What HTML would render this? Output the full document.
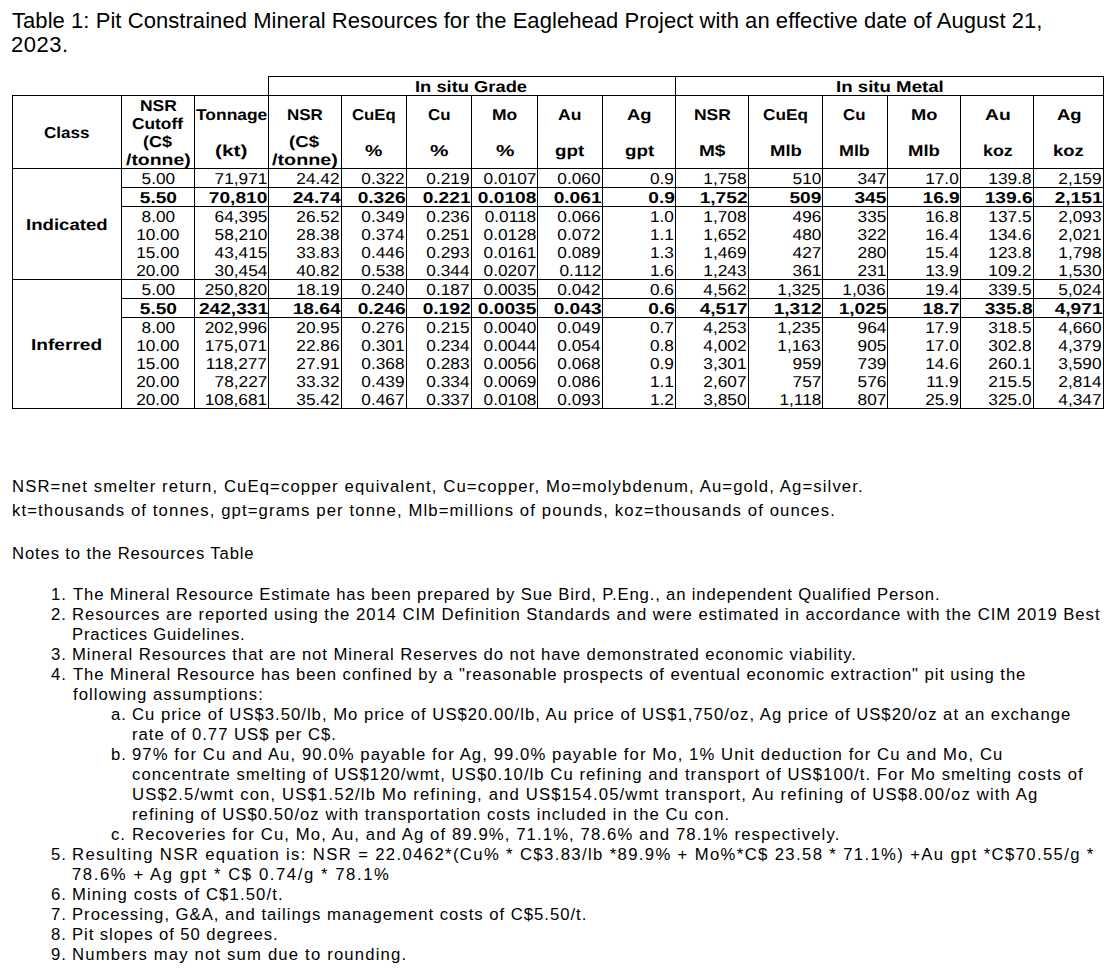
<!DOCTYPE html>
<html><head><meta charset="utf-8"><title>Table 1</title>
<style>
html,body{margin:0;padding:0;background:#fff;}
body{width:1120px;height:969px;position:relative;overflow:hidden;font-family:'Liberation Sans', sans-serif;color:#000;}
.ln{position:absolute;background:#000;}
.t{position:absolute;line-height:20px;white-space:pre;}
.gp{text-rendering:geometricPrecision;}
</style></head><body>
<div class="ln" style="left:268px;top:76px;width:836px;height:1px"></div>
<div class="ln" style="left:12px;top:95px;width:1092px;height:1px"></div>
<div class="ln" style="left:12px;top:168px;width:1092px;height:1px"></div>
<div class="ln" style="left:12px;top:279px;width:1092px;height:1px"></div>
<div class="ln" style="left:12px;top:408px;width:1092px;height:1px"></div>
<div class="ln" style="left:121px;top:187px;width:983px;height:1px"></div>
<div class="ln" style="left:121px;top:206px;width:983px;height:1px"></div>
<div class="ln" style="left:121px;top:298px;width:983px;height:1px"></div>
<div class="ln" style="left:121px;top:317px;width:983px;height:1px"></div>
<div class="ln" style="left:12px;top:95px;width:1px;height:314px"></div>
<div class="ln" style="left:121px;top:95px;width:1px;height:314px"></div>
<div class="ln" style="left:194px;top:95px;width:1px;height:314px"></div>
<div class="ln" style="left:268px;top:76px;width:1px;height:333px"></div>
<div class="ln" style="left:341px;top:95px;width:1px;height:314px"></div>
<div class="ln" style="left:406px;top:95px;width:1px;height:314px"></div>
<div class="ln" style="left:471px;top:95px;width:1px;height:314px"></div>
<div class="ln" style="left:537px;top:95px;width:1px;height:314px"></div>
<div class="ln" style="left:602px;top:95px;width:1px;height:314px"></div>
<div class="ln" style="left:675px;top:76px;width:1px;height:333px"></div>
<div class="ln" style="left:748px;top:95px;width:1px;height:314px"></div>
<div class="ln" style="left:822px;top:95px;width:1px;height:314px"></div>
<div class="ln" style="left:887px;top:95px;width:1px;height:314px"></div>
<div class="ln" style="left:960px;top:95px;width:1px;height:314px"></div>
<div class="ln" style="left:1033px;top:95px;width:1px;height:314px"></div>
<div class="ln" style="left:1103px;top:76px;width:1px;height:333px"></div>
<div class="t" style="top:11px;font-size:22px;letter-spacing:0.0577px;left:12px;">Table 1: Pit Constrained Mineral Resources for the Eaglehead Project with an effective date of August 21,</div>
<div class="t" style="top:35px;font-size:22px;letter-spacing:0.5px;left:11px;">2023.</div>
<div class="t gp" style="top:78px;font-size:15.8px;letter-spacing:0px;transform:scaleX(1.1604);transform-origin:0 0;font-weight:bold;left:415px;">In situ Grade</div>
<div class="t gp" style="top:78px;font-size:15.8px;letter-spacing:0px;transform:scaleX(1.1809);transform-origin:0 0;font-weight:bold;left:836px;">In situ Metal</div>
<div class="t gp" style="top:124px;font-size:15.8px;letter-spacing:0px;transform:scaleX(1.0808);transform-origin:0 0;font-weight:bold;left:44px;">Class</div>
<div class="t gp" style="top:97px;font-size:15.8px;letter-spacing:0px;transform:scaleX(1.1062);transform-origin:0 0;font-weight:bold;left:140px;">NSR</div>
<div class="t gp" style="top:115px;font-size:15.8px;letter-spacing:0px;transform:scaleX(1.0961);transform-origin:0 0;font-weight:bold;left:132px;">Cutoff</div>
<div class="t gp" style="top:133px;font-size:15.8px;letter-spacing:0px;transform:scaleX(1.1362);transform-origin:0 0;font-weight:bold;left:143px;">(C$</div>
<div class="t gp" style="top:151px;font-size:15.8px;letter-spacing:0px;transform:scaleX(1.2296);transform-origin:0 0;font-weight:bold;left:126px;">/tonne)</div>
<div class="t gp" style="top:106px;font-size:15.8px;letter-spacing:0px;transform:scaleX(1.1028);transform-origin:0 0;font-weight:bold;left:196px;">Tonnage</div>
<div class="t gp" style="top:142px;font-size:15.8px;letter-spacing:0px;transform:scaleX(1.3237);transform-origin:0 0;font-weight:bold;left:215px;">(kt)</div>
<div class="t gp" style="top:106px;font-size:15.8px;letter-spacing:0px;transform:scaleX(1.073);transform-origin:0 0;font-weight:bold;left:287px;">NSR</div>
<div class="t gp" style="top:133px;font-size:15.8px;letter-spacing:0px;transform:scaleX(1.1796);transform-origin:0 0;font-weight:bold;left:289px;">(C$</div>
<div class="t gp" style="top:151px;font-size:15.8px;letter-spacing:0px;transform:scaleX(1.2501);transform-origin:0 0;font-weight:bold;left:272px;">/tonne)</div>
<div class="t gp" style="top:106px;font-size:15.8px;letter-spacing:0px;transform:scaleX(1.0594);transform-origin:0 0;font-weight:bold;left:352px;">CuEq</div>
<div class="t gp" style="top:142px;font-size:15.8px;letter-spacing:0px;transform:scaleX(1.2351);transform-origin:0 0;font-weight:bold;left:365px;">%</div>
<div class="t gp" style="top:106px;font-size:15.8px;letter-spacing:0px;transform:scaleX(1.066);transform-origin:0 0;font-weight:bold;left:428px;">Cu</div>
<div class="t gp" style="top:142px;font-size:15.8px;letter-spacing:0px;transform:scaleX(1.3117);transform-origin:0 0;font-weight:bold;left:430px;">%</div>
<div class="t gp" style="top:106px;font-size:15.8px;letter-spacing:0px;transform:scaleX(1.1077);transform-origin:0 0;font-weight:bold;left:492px;">Mo</div>
<div class="t gp" style="top:142px;font-size:15.8px;letter-spacing:0px;transform:scaleX(1.3117);transform-origin:0 0;font-weight:bold;left:496px;">%</div>
<div class="t gp" style="top:106px;font-size:15.8px;letter-spacing:0px;transform:scaleX(1.1119);transform-origin:0 0;font-weight:bold;left:558px;">Au</div>
<div class="t gp" style="top:142px;font-size:15.8px;letter-spacing:0px;transform:scaleX(1.1864);transform-origin:0 0;font-weight:bold;left:555px;">gpt</div>
<div class="t gp" style="top:106px;font-size:15.8px;letter-spacing:0px;transform:scaleX(1.1648);transform-origin:0 0;font-weight:bold;left:627px;">Ag</div>
<div class="t gp" style="top:142px;font-size:15.8px;letter-spacing:0px;transform:scaleX(1.1864);transform-origin:0 0;font-weight:bold;left:625px;">gpt</div>
<div class="t gp" style="top:106px;font-size:15.8px;letter-spacing:0px;transform:scaleX(1.1062);transform-origin:0 0;font-weight:bold;left:694px;">NSR</div>
<div class="t gp" style="top:142px;font-size:15.8px;letter-spacing:0px;transform:scaleX(1.2056);transform-origin:0 0;font-weight:bold;left:699px;">M$</div>
<div class="t gp" style="top:106px;font-size:15.8px;letter-spacing:0px;transform:scaleX(1.0886);transform-origin:0 0;font-weight:bold;left:763px;">CuEq</div>
<div class="t gp" style="top:142px;font-size:15.8px;letter-spacing:0px;transform:scaleX(1.1732);transform-origin:0 0;font-weight:bold;left:770px;">Mlb</div>
<div class="t gp" style="top:106px;font-size:15.8px;letter-spacing:0px;transform:scaleX(1.0652);transform-origin:0 0;font-weight:bold;left:843px;">Cu</div>
<div class="t gp" style="top:142px;font-size:15.8px;letter-spacing:0px;transform:scaleX(1.1316);transform-origin:0 0;font-weight:bold;left:839px;">Mlb</div>
<div class="t gp" style="top:106px;font-size:15.8px;letter-spacing:0px;transform:scaleX(1.1574);transform-origin:0 0;font-weight:bold;left:911px;">Mo</div>
<div class="t gp" style="top:142px;font-size:15.8px;letter-spacing:0px;transform:scaleX(1.1732);transform-origin:0 0;font-weight:bold;left:908px;">Mlb</div>
<div class="t gp" style="top:106px;font-size:15.8px;letter-spacing:0px;transform:scaleX(1.2195);transform-origin:0 0;font-weight:bold;left:985px;">Au</div>
<div class="t gp" style="top:142px;font-size:15.8px;letter-spacing:0px;transform:scaleX(1.1292);transform-origin:0 0;font-weight:bold;left:983px;">koz</div>
<div class="t gp" style="top:106px;font-size:15.8px;letter-spacing:0px;transform:scaleX(1.1648);transform-origin:0 0;font-weight:bold;left:1057px;">Ag</div>
<div class="t gp" style="top:142px;font-size:15.8px;letter-spacing:0px;transform:scaleX(1.1707);transform-origin:0 0;font-weight:bold;left:1053px;">koz</div>
<div class="t gp" style="top:216px;font-size:15.8px;letter-spacing:0px;transform:scaleX(1.1775);transform-origin:0 0;font-weight:bold;left:26px;">Indicated</div>
<div class="t gp" style="top:336px;font-size:15.8px;letter-spacing:0px;transform:scaleX(1.209);transform-origin:0 0;font-weight:bold;left:31px;">Inferred</div>
<div class="t gp" style="top:170px;font-size:15.8px;letter-spacing:0px;left:121.7px;width:73px;text-align:center;"><span style="display:inline-block;transform:scaleX(1.092);transform-origin:50% 50%">5.00</span></div>
<div class="t gp" style="top:170px;font-size:15.8px;letter-spacing:0px;left:194px;width:73.0px;text-align:right;"><span style="display:inline-block;transform:scaleX(1.092);transform-origin:100% 50%">71,971</span></div>
<div class="t gp" style="top:170px;font-size:15.8px;letter-spacing:0px;left:268px;width:72.0px;text-align:right;"><span style="display:inline-block;transform:scaleX(1.092);transform-origin:100% 50%">24.42</span></div>
<div class="t gp" style="top:170px;font-size:15.8px;letter-spacing:0px;left:341px;width:64.0px;text-align:right;"><span style="display:inline-block;transform:scaleX(1.092);transform-origin:100% 50%">0.322</span></div>
<div class="t gp" style="top:170px;font-size:15.8px;letter-spacing:0px;left:406px;width:64.0px;text-align:right;"><span style="display:inline-block;transform:scaleX(1.092);transform-origin:100% 50%">0.219</span></div>
<div class="t gp" style="top:170px;font-size:15.8px;letter-spacing:0px;left:471px;width:65.0px;text-align:right;"><span style="display:inline-block;transform:scaleX(1.092);transform-origin:100% 50%">0.0107</span></div>
<div class="t gp" style="top:170px;font-size:15.8px;letter-spacing:0px;left:537px;width:64.0px;text-align:right;"><span style="display:inline-block;transform:scaleX(1.092);transform-origin:100% 50%">0.060</span></div>
<div class="t gp" style="top:170px;font-size:15.8px;letter-spacing:0px;left:602px;width:72.0px;text-align:right;"><span style="display:inline-block;transform:scaleX(1.092);transform-origin:100% 50%">0.9</span></div>
<div class="t gp" style="top:170px;font-size:15.8px;letter-spacing:0px;left:675px;width:72.0px;text-align:right;"><span style="display:inline-block;transform:scaleX(1.092);transform-origin:100% 50%">1,758</span></div>
<div class="t gp" style="top:170px;font-size:15.8px;letter-spacing:0px;left:748px;width:73.0px;text-align:right;"><span style="display:inline-block;transform:scaleX(1.092);transform-origin:100% 50%">510</span></div>
<div class="t gp" style="top:170px;font-size:15.8px;letter-spacing:0px;left:822px;width:64.0px;text-align:right;"><span style="display:inline-block;transform:scaleX(1.092);transform-origin:100% 50%">347</span></div>
<div class="t gp" style="top:170px;font-size:15.8px;letter-spacing:0px;left:887px;width:72.0px;text-align:right;"><span style="display:inline-block;transform:scaleX(1.092);transform-origin:100% 50%">17.0</span></div>
<div class="t gp" style="top:170px;font-size:15.8px;letter-spacing:0px;left:960px;width:72.0px;text-align:right;"><span style="display:inline-block;transform:scaleX(1.092);transform-origin:100% 50%">139.8</span></div>
<div class="t gp" style="top:170px;font-size:15.8px;letter-spacing:0px;left:1033px;width:69.0px;text-align:right;"><span style="display:inline-block;transform:scaleX(1.092);transform-origin:100% 50%">2,159</span></div>
<div class="t gp" style="top:189px;font-size:15.8px;letter-spacing:0px;font-weight:bold;left:121.7px;width:73px;text-align:center;"><span style="display:inline-block;transform:scaleX(1.2113);transform-origin:50% 50%">5.50</span></div>
<div class="t gp" style="top:189px;font-size:15.8px;letter-spacing:0px;font-weight:bold;left:194px;width:73.7px;text-align:right;"><span style="display:inline-block;transform:scaleX(1.2113);transform-origin:100% 50%">70,810</span></div>
<div class="t gp" style="top:189px;font-size:15.8px;letter-spacing:0px;font-weight:bold;left:268px;width:72.7px;text-align:right;"><span style="display:inline-block;transform:scaleX(1.2113);transform-origin:100% 50%">24.74</span></div>
<div class="t gp" style="top:189px;font-size:15.8px;letter-spacing:0px;font-weight:bold;left:341px;width:64.7px;text-align:right;"><span style="display:inline-block;transform:scaleX(1.2113);transform-origin:100% 50%">0.326</span></div>
<div class="t gp" style="top:189px;font-size:15.8px;letter-spacing:0px;font-weight:bold;left:406px;width:64.7px;text-align:right;"><span style="display:inline-block;transform:scaleX(1.2113);transform-origin:100% 50%">0.221</span></div>
<div class="t gp" style="top:189px;font-size:15.8px;letter-spacing:0px;font-weight:bold;left:471px;width:65.7px;text-align:right;"><span style="display:inline-block;transform:scaleX(1.2113);transform-origin:100% 50%">0.0108</span></div>
<div class="t gp" style="top:189px;font-size:15.8px;letter-spacing:0px;font-weight:bold;left:537px;width:64.7px;text-align:right;"><span style="display:inline-block;transform:scaleX(1.2113);transform-origin:100% 50%">0.061</span></div>
<div class="t gp" style="top:189px;font-size:15.8px;letter-spacing:0px;font-weight:bold;left:602px;width:72.7px;text-align:right;"><span style="display:inline-block;transform:scaleX(1.2113);transform-origin:100% 50%">0.9</span></div>
<div class="t gp" style="top:189px;font-size:15.8px;letter-spacing:0px;font-weight:bold;left:675px;width:72.7px;text-align:right;"><span style="display:inline-block;transform:scaleX(1.2113);transform-origin:100% 50%">1,752</span></div>
<div class="t gp" style="top:189px;font-size:15.8px;letter-spacing:0px;font-weight:bold;left:748px;width:73.7px;text-align:right;"><span style="display:inline-block;transform:scaleX(1.2113);transform-origin:100% 50%">509</span></div>
<div class="t gp" style="top:189px;font-size:15.8px;letter-spacing:0px;font-weight:bold;left:822px;width:64.7px;text-align:right;"><span style="display:inline-block;transform:scaleX(1.2113);transform-origin:100% 50%">345</span></div>
<div class="t gp" style="top:189px;font-size:15.8px;letter-spacing:0px;font-weight:bold;left:887px;width:72.7px;text-align:right;"><span style="display:inline-block;transform:scaleX(1.2113);transform-origin:100% 50%">16.9</span></div>
<div class="t gp" style="top:189px;font-size:15.8px;letter-spacing:0px;font-weight:bold;left:960px;width:72.7px;text-align:right;"><span style="display:inline-block;transform:scaleX(1.2113);transform-origin:100% 50%">139.6</span></div>
<div class="t gp" style="top:189px;font-size:15.8px;letter-spacing:0px;font-weight:bold;left:1033px;width:69.7px;text-align:right;"><span style="display:inline-block;transform:scaleX(1.2113);transform-origin:100% 50%">2,151</span></div>
<div class="t gp" style="top:208px;font-size:15.8px;letter-spacing:0px;left:121.7px;width:73px;text-align:center;"><span style="display:inline-block;transform:scaleX(1.092);transform-origin:50% 50%">8.00</span></div>
<div class="t gp" style="top:208px;font-size:15.8px;letter-spacing:0px;left:194px;width:73.0px;text-align:right;"><span style="display:inline-block;transform:scaleX(1.092);transform-origin:100% 50%">64,395</span></div>
<div class="t gp" style="top:208px;font-size:15.8px;letter-spacing:0px;left:268px;width:72.0px;text-align:right;"><span style="display:inline-block;transform:scaleX(1.092);transform-origin:100% 50%">26.52</span></div>
<div class="t gp" style="top:208px;font-size:15.8px;letter-spacing:0px;left:341px;width:64.0px;text-align:right;"><span style="display:inline-block;transform:scaleX(1.092);transform-origin:100% 50%">0.349</span></div>
<div class="t gp" style="top:208px;font-size:15.8px;letter-spacing:0px;left:406px;width:64.0px;text-align:right;"><span style="display:inline-block;transform:scaleX(1.092);transform-origin:100% 50%">0.236</span></div>
<div class="t gp" style="top:208px;font-size:15.8px;letter-spacing:0px;left:471px;width:65.0px;text-align:right;"><span style="display:inline-block;transform:scaleX(1.092);transform-origin:100% 50%">0.0118</span></div>
<div class="t gp" style="top:208px;font-size:15.8px;letter-spacing:0px;left:537px;width:64.0px;text-align:right;"><span style="display:inline-block;transform:scaleX(1.092);transform-origin:100% 50%">0.066</span></div>
<div class="t gp" style="top:208px;font-size:15.8px;letter-spacing:0px;left:602px;width:72.0px;text-align:right;"><span style="display:inline-block;transform:scaleX(1.092);transform-origin:100% 50%">1.0</span></div>
<div class="t gp" style="top:208px;font-size:15.8px;letter-spacing:0px;left:675px;width:72.0px;text-align:right;"><span style="display:inline-block;transform:scaleX(1.092);transform-origin:100% 50%">1,708</span></div>
<div class="t gp" style="top:208px;font-size:15.8px;letter-spacing:0px;left:748px;width:73.0px;text-align:right;"><span style="display:inline-block;transform:scaleX(1.092);transform-origin:100% 50%">496</span></div>
<div class="t gp" style="top:208px;font-size:15.8px;letter-spacing:0px;left:822px;width:64.0px;text-align:right;"><span style="display:inline-block;transform:scaleX(1.092);transform-origin:100% 50%">335</span></div>
<div class="t gp" style="top:208px;font-size:15.8px;letter-spacing:0px;left:887px;width:72.0px;text-align:right;"><span style="display:inline-block;transform:scaleX(1.092);transform-origin:100% 50%">16.8</span></div>
<div class="t gp" style="top:208px;font-size:15.8px;letter-spacing:0px;left:960px;width:72.0px;text-align:right;"><span style="display:inline-block;transform:scaleX(1.092);transform-origin:100% 50%">137.5</span></div>
<div class="t gp" style="top:208px;font-size:15.8px;letter-spacing:0px;left:1033px;width:69.0px;text-align:right;"><span style="display:inline-block;transform:scaleX(1.092);transform-origin:100% 50%">2,093</span></div>
<div class="t gp" style="top:226px;font-size:15.8px;letter-spacing:0px;left:121.7px;width:73px;text-align:center;"><span style="display:inline-block;transform:scaleX(1.092);transform-origin:50% 50%">10.00</span></div>
<div class="t gp" style="top:226px;font-size:15.8px;letter-spacing:0px;left:194px;width:73.0px;text-align:right;"><span style="display:inline-block;transform:scaleX(1.092);transform-origin:100% 50%">58,210</span></div>
<div class="t gp" style="top:226px;font-size:15.8px;letter-spacing:0px;left:268px;width:72.0px;text-align:right;"><span style="display:inline-block;transform:scaleX(1.092);transform-origin:100% 50%">28.38</span></div>
<div class="t gp" style="top:226px;font-size:15.8px;letter-spacing:0px;left:341px;width:64.0px;text-align:right;"><span style="display:inline-block;transform:scaleX(1.092);transform-origin:100% 50%">0.374</span></div>
<div class="t gp" style="top:226px;font-size:15.8px;letter-spacing:0px;left:406px;width:64.0px;text-align:right;"><span style="display:inline-block;transform:scaleX(1.092);transform-origin:100% 50%">0.251</span></div>
<div class="t gp" style="top:226px;font-size:15.8px;letter-spacing:0px;left:471px;width:65.0px;text-align:right;"><span style="display:inline-block;transform:scaleX(1.092);transform-origin:100% 50%">0.0128</span></div>
<div class="t gp" style="top:226px;font-size:15.8px;letter-spacing:0px;left:537px;width:64.0px;text-align:right;"><span style="display:inline-block;transform:scaleX(1.092);transform-origin:100% 50%">0.072</span></div>
<div class="t gp" style="top:226px;font-size:15.8px;letter-spacing:0px;left:602px;width:72.0px;text-align:right;"><span style="display:inline-block;transform:scaleX(1.092);transform-origin:100% 50%">1.1</span></div>
<div class="t gp" style="top:226px;font-size:15.8px;letter-spacing:0px;left:675px;width:72.0px;text-align:right;"><span style="display:inline-block;transform:scaleX(1.092);transform-origin:100% 50%">1,652</span></div>
<div class="t gp" style="top:226px;font-size:15.8px;letter-spacing:0px;left:748px;width:73.0px;text-align:right;"><span style="display:inline-block;transform:scaleX(1.092);transform-origin:100% 50%">480</span></div>
<div class="t gp" style="top:226px;font-size:15.8px;letter-spacing:0px;left:822px;width:64.0px;text-align:right;"><span style="display:inline-block;transform:scaleX(1.092);transform-origin:100% 50%">322</span></div>
<div class="t gp" style="top:226px;font-size:15.8px;letter-spacing:0px;left:887px;width:72.0px;text-align:right;"><span style="display:inline-block;transform:scaleX(1.092);transform-origin:100% 50%">16.4</span></div>
<div class="t gp" style="top:226px;font-size:15.8px;letter-spacing:0px;left:960px;width:72.0px;text-align:right;"><span style="display:inline-block;transform:scaleX(1.092);transform-origin:100% 50%">134.6</span></div>
<div class="t gp" style="top:226px;font-size:15.8px;letter-spacing:0px;left:1033px;width:69.0px;text-align:right;"><span style="display:inline-block;transform:scaleX(1.092);transform-origin:100% 50%">2,021</span></div>
<div class="t gp" style="top:244px;font-size:15.8px;letter-spacing:0px;left:121.7px;width:73px;text-align:center;"><span style="display:inline-block;transform:scaleX(1.092);transform-origin:50% 50%">15.00</span></div>
<div class="t gp" style="top:244px;font-size:15.8px;letter-spacing:0px;left:194px;width:73.0px;text-align:right;"><span style="display:inline-block;transform:scaleX(1.092);transform-origin:100% 50%">43,415</span></div>
<div class="t gp" style="top:244px;font-size:15.8px;letter-spacing:0px;left:268px;width:72.0px;text-align:right;"><span style="display:inline-block;transform:scaleX(1.092);transform-origin:100% 50%">33.83</span></div>
<div class="t gp" style="top:244px;font-size:15.8px;letter-spacing:0px;left:341px;width:64.0px;text-align:right;"><span style="display:inline-block;transform:scaleX(1.092);transform-origin:100% 50%">0.446</span></div>
<div class="t gp" style="top:244px;font-size:15.8px;letter-spacing:0px;left:406px;width:64.0px;text-align:right;"><span style="display:inline-block;transform:scaleX(1.092);transform-origin:100% 50%">0.293</span></div>
<div class="t gp" style="top:244px;font-size:15.8px;letter-spacing:0px;left:471px;width:65.0px;text-align:right;"><span style="display:inline-block;transform:scaleX(1.092);transform-origin:100% 50%">0.0161</span></div>
<div class="t gp" style="top:244px;font-size:15.8px;letter-spacing:0px;left:537px;width:64.0px;text-align:right;"><span style="display:inline-block;transform:scaleX(1.092);transform-origin:100% 50%">0.089</span></div>
<div class="t gp" style="top:244px;font-size:15.8px;letter-spacing:0px;left:602px;width:72.0px;text-align:right;"><span style="display:inline-block;transform:scaleX(1.092);transform-origin:100% 50%">1.3</span></div>
<div class="t gp" style="top:244px;font-size:15.8px;letter-spacing:0px;left:675px;width:72.0px;text-align:right;"><span style="display:inline-block;transform:scaleX(1.092);transform-origin:100% 50%">1,469</span></div>
<div class="t gp" style="top:244px;font-size:15.8px;letter-spacing:0px;left:748px;width:73.0px;text-align:right;"><span style="display:inline-block;transform:scaleX(1.092);transform-origin:100% 50%">427</span></div>
<div class="t gp" style="top:244px;font-size:15.8px;letter-spacing:0px;left:822px;width:64.0px;text-align:right;"><span style="display:inline-block;transform:scaleX(1.092);transform-origin:100% 50%">280</span></div>
<div class="t gp" style="top:244px;font-size:15.8px;letter-spacing:0px;left:887px;width:72.0px;text-align:right;"><span style="display:inline-block;transform:scaleX(1.092);transform-origin:100% 50%">15.4</span></div>
<div class="t gp" style="top:244px;font-size:15.8px;letter-spacing:0px;left:960px;width:72.0px;text-align:right;"><span style="display:inline-block;transform:scaleX(1.092);transform-origin:100% 50%">123.8</span></div>
<div class="t gp" style="top:244px;font-size:15.8px;letter-spacing:0px;left:1033px;width:69.0px;text-align:right;"><span style="display:inline-block;transform:scaleX(1.092);transform-origin:100% 50%">1,798</span></div>
<div class="t gp" style="top:262px;font-size:15.8px;letter-spacing:0px;left:121.7px;width:73px;text-align:center;"><span style="display:inline-block;transform:scaleX(1.092);transform-origin:50% 50%">20.00</span></div>
<div class="t gp" style="top:262px;font-size:15.8px;letter-spacing:0px;left:194px;width:73.0px;text-align:right;"><span style="display:inline-block;transform:scaleX(1.092);transform-origin:100% 50%">30,454</span></div>
<div class="t gp" style="top:262px;font-size:15.8px;letter-spacing:0px;left:268px;width:72.0px;text-align:right;"><span style="display:inline-block;transform:scaleX(1.092);transform-origin:100% 50%">40.82</span></div>
<div class="t gp" style="top:262px;font-size:15.8px;letter-spacing:0px;left:341px;width:64.0px;text-align:right;"><span style="display:inline-block;transform:scaleX(1.092);transform-origin:100% 50%">0.538</span></div>
<div class="t gp" style="top:262px;font-size:15.8px;letter-spacing:0px;left:406px;width:64.0px;text-align:right;"><span style="display:inline-block;transform:scaleX(1.092);transform-origin:100% 50%">0.344</span></div>
<div class="t gp" style="top:262px;font-size:15.8px;letter-spacing:0px;left:471px;width:65.0px;text-align:right;"><span style="display:inline-block;transform:scaleX(1.092);transform-origin:100% 50%">0.0207</span></div>
<div class="t gp" style="top:262px;font-size:15.8px;letter-spacing:0px;left:537px;width:64.0px;text-align:right;"><span style="display:inline-block;transform:scaleX(1.092);transform-origin:100% 50%">0.112</span></div>
<div class="t gp" style="top:262px;font-size:15.8px;letter-spacing:0px;left:602px;width:72.0px;text-align:right;"><span style="display:inline-block;transform:scaleX(1.092);transform-origin:100% 50%">1.6</span></div>
<div class="t gp" style="top:262px;font-size:15.8px;letter-spacing:0px;left:675px;width:72.0px;text-align:right;"><span style="display:inline-block;transform:scaleX(1.092);transform-origin:100% 50%">1,243</span></div>
<div class="t gp" style="top:262px;font-size:15.8px;letter-spacing:0px;left:748px;width:73.0px;text-align:right;"><span style="display:inline-block;transform:scaleX(1.092);transform-origin:100% 50%">361</span></div>
<div class="t gp" style="top:262px;font-size:15.8px;letter-spacing:0px;left:822px;width:64.0px;text-align:right;"><span style="display:inline-block;transform:scaleX(1.092);transform-origin:100% 50%">231</span></div>
<div class="t gp" style="top:262px;font-size:15.8px;letter-spacing:0px;left:887px;width:72.0px;text-align:right;"><span style="display:inline-block;transform:scaleX(1.092);transform-origin:100% 50%">13.9</span></div>
<div class="t gp" style="top:262px;font-size:15.8px;letter-spacing:0px;left:960px;width:72.0px;text-align:right;"><span style="display:inline-block;transform:scaleX(1.092);transform-origin:100% 50%">109.2</span></div>
<div class="t gp" style="top:262px;font-size:15.8px;letter-spacing:0px;left:1033px;width:69.0px;text-align:right;"><span style="display:inline-block;transform:scaleX(1.092);transform-origin:100% 50%">1,530</span></div>
<div class="t gp" style="top:281px;font-size:15.8px;letter-spacing:0px;left:121.7px;width:73px;text-align:center;"><span style="display:inline-block;transform:scaleX(1.092);transform-origin:50% 50%">5.00</span></div>
<div class="t gp" style="top:281px;font-size:15.8px;letter-spacing:0px;left:194px;width:73.0px;text-align:right;"><span style="display:inline-block;transform:scaleX(1.092);transform-origin:100% 50%">250,820</span></div>
<div class="t gp" style="top:281px;font-size:15.8px;letter-spacing:0px;left:268px;width:72.0px;text-align:right;"><span style="display:inline-block;transform:scaleX(1.092);transform-origin:100% 50%">18.19</span></div>
<div class="t gp" style="top:281px;font-size:15.8px;letter-spacing:0px;left:341px;width:64.0px;text-align:right;"><span style="display:inline-block;transform:scaleX(1.092);transform-origin:100% 50%">0.240</span></div>
<div class="t gp" style="top:281px;font-size:15.8px;letter-spacing:0px;left:406px;width:64.0px;text-align:right;"><span style="display:inline-block;transform:scaleX(1.092);transform-origin:100% 50%">0.187</span></div>
<div class="t gp" style="top:281px;font-size:15.8px;letter-spacing:0px;left:471px;width:65.0px;text-align:right;"><span style="display:inline-block;transform:scaleX(1.092);transform-origin:100% 50%">0.0035</span></div>
<div class="t gp" style="top:281px;font-size:15.8px;letter-spacing:0px;left:537px;width:64.0px;text-align:right;"><span style="display:inline-block;transform:scaleX(1.092);transform-origin:100% 50%">0.042</span></div>
<div class="t gp" style="top:281px;font-size:15.8px;letter-spacing:0px;left:602px;width:72.0px;text-align:right;"><span style="display:inline-block;transform:scaleX(1.092);transform-origin:100% 50%">0.6</span></div>
<div class="t gp" style="top:281px;font-size:15.8px;letter-spacing:0px;left:675px;width:72.0px;text-align:right;"><span style="display:inline-block;transform:scaleX(1.092);transform-origin:100% 50%">4,562</span></div>
<div class="t gp" style="top:281px;font-size:15.8px;letter-spacing:0px;left:748px;width:73.0px;text-align:right;"><span style="display:inline-block;transform:scaleX(1.092);transform-origin:100% 50%">1,325</span></div>
<div class="t gp" style="top:281px;font-size:15.8px;letter-spacing:0px;left:822px;width:64.0px;text-align:right;"><span style="display:inline-block;transform:scaleX(1.092);transform-origin:100% 50%">1,036</span></div>
<div class="t gp" style="top:281px;font-size:15.8px;letter-spacing:0px;left:887px;width:72.0px;text-align:right;"><span style="display:inline-block;transform:scaleX(1.092);transform-origin:100% 50%">19.4</span></div>
<div class="t gp" style="top:281px;font-size:15.8px;letter-spacing:0px;left:960px;width:72.0px;text-align:right;"><span style="display:inline-block;transform:scaleX(1.092);transform-origin:100% 50%">339.5</span></div>
<div class="t gp" style="top:281px;font-size:15.8px;letter-spacing:0px;left:1033px;width:69.0px;text-align:right;"><span style="display:inline-block;transform:scaleX(1.092);transform-origin:100% 50%">5,024</span></div>
<div class="t gp" style="top:300px;font-size:15.8px;letter-spacing:0px;font-weight:bold;left:121.7px;width:73px;text-align:center;"><span style="display:inline-block;transform:scaleX(1.2113);transform-origin:50% 50%">5.50</span></div>
<div class="t gp" style="top:300px;font-size:15.8px;letter-spacing:0px;font-weight:bold;left:194px;width:73.7px;text-align:right;"><span style="display:inline-block;transform:scaleX(1.2113);transform-origin:100% 50%">242,331</span></div>
<div class="t gp" style="top:300px;font-size:15.8px;letter-spacing:0px;font-weight:bold;left:268px;width:72.7px;text-align:right;"><span style="display:inline-block;transform:scaleX(1.2113);transform-origin:100% 50%">18.64</span></div>
<div class="t gp" style="top:300px;font-size:15.8px;letter-spacing:0px;font-weight:bold;left:341px;width:64.7px;text-align:right;"><span style="display:inline-block;transform:scaleX(1.2113);transform-origin:100% 50%">0.246</span></div>
<div class="t gp" style="top:300px;font-size:15.8px;letter-spacing:0px;font-weight:bold;left:406px;width:64.7px;text-align:right;"><span style="display:inline-block;transform:scaleX(1.2113);transform-origin:100% 50%">0.192</span></div>
<div class="t gp" style="top:300px;font-size:15.8px;letter-spacing:0px;font-weight:bold;left:471px;width:65.7px;text-align:right;"><span style="display:inline-block;transform:scaleX(1.2113);transform-origin:100% 50%">0.0035</span></div>
<div class="t gp" style="top:300px;font-size:15.8px;letter-spacing:0px;font-weight:bold;left:537px;width:64.7px;text-align:right;"><span style="display:inline-block;transform:scaleX(1.2113);transform-origin:100% 50%">0.043</span></div>
<div class="t gp" style="top:300px;font-size:15.8px;letter-spacing:0px;font-weight:bold;left:602px;width:72.7px;text-align:right;"><span style="display:inline-block;transform:scaleX(1.2113);transform-origin:100% 50%">0.6</span></div>
<div class="t gp" style="top:300px;font-size:15.8px;letter-spacing:0px;font-weight:bold;left:675px;width:72.7px;text-align:right;"><span style="display:inline-block;transform:scaleX(1.2113);transform-origin:100% 50%">4,517</span></div>
<div class="t gp" style="top:300px;font-size:15.8px;letter-spacing:0px;font-weight:bold;left:748px;width:73.7px;text-align:right;"><span style="display:inline-block;transform:scaleX(1.2113);transform-origin:100% 50%">1,312</span></div>
<div class="t gp" style="top:300px;font-size:15.8px;letter-spacing:0px;font-weight:bold;left:822px;width:64.7px;text-align:right;"><span style="display:inline-block;transform:scaleX(1.2113);transform-origin:100% 50%">1,025</span></div>
<div class="t gp" style="top:300px;font-size:15.8px;letter-spacing:0px;font-weight:bold;left:887px;width:72.7px;text-align:right;"><span style="display:inline-block;transform:scaleX(1.2113);transform-origin:100% 50%">18.7</span></div>
<div class="t gp" style="top:300px;font-size:15.8px;letter-spacing:0px;font-weight:bold;left:960px;width:72.7px;text-align:right;"><span style="display:inline-block;transform:scaleX(1.2113);transform-origin:100% 50%">335.8</span></div>
<div class="t gp" style="top:300px;font-size:15.8px;letter-spacing:0px;font-weight:bold;left:1033px;width:69.7px;text-align:right;"><span style="display:inline-block;transform:scaleX(1.2113);transform-origin:100% 50%">4,971</span></div>
<div class="t gp" style="top:319px;font-size:15.8px;letter-spacing:0px;left:121.7px;width:73px;text-align:center;"><span style="display:inline-block;transform:scaleX(1.092);transform-origin:50% 50%">8.00</span></div>
<div class="t gp" style="top:319px;font-size:15.8px;letter-spacing:0px;left:194px;width:73.0px;text-align:right;"><span style="display:inline-block;transform:scaleX(1.092);transform-origin:100% 50%">202,996</span></div>
<div class="t gp" style="top:319px;font-size:15.8px;letter-spacing:0px;left:268px;width:72.0px;text-align:right;"><span style="display:inline-block;transform:scaleX(1.092);transform-origin:100% 50%">20.95</span></div>
<div class="t gp" style="top:319px;font-size:15.8px;letter-spacing:0px;left:341px;width:64.0px;text-align:right;"><span style="display:inline-block;transform:scaleX(1.092);transform-origin:100% 50%">0.276</span></div>
<div class="t gp" style="top:319px;font-size:15.8px;letter-spacing:0px;left:406px;width:64.0px;text-align:right;"><span style="display:inline-block;transform:scaleX(1.092);transform-origin:100% 50%">0.215</span></div>
<div class="t gp" style="top:319px;font-size:15.8px;letter-spacing:0px;left:471px;width:65.0px;text-align:right;"><span style="display:inline-block;transform:scaleX(1.092);transform-origin:100% 50%">0.0040</span></div>
<div class="t gp" style="top:319px;font-size:15.8px;letter-spacing:0px;left:537px;width:64.0px;text-align:right;"><span style="display:inline-block;transform:scaleX(1.092);transform-origin:100% 50%">0.049</span></div>
<div class="t gp" style="top:319px;font-size:15.8px;letter-spacing:0px;left:602px;width:72.0px;text-align:right;"><span style="display:inline-block;transform:scaleX(1.092);transform-origin:100% 50%">0.7</span></div>
<div class="t gp" style="top:319px;font-size:15.8px;letter-spacing:0px;left:675px;width:72.0px;text-align:right;"><span style="display:inline-block;transform:scaleX(1.092);transform-origin:100% 50%">4,253</span></div>
<div class="t gp" style="top:319px;font-size:15.8px;letter-spacing:0px;left:748px;width:73.0px;text-align:right;"><span style="display:inline-block;transform:scaleX(1.092);transform-origin:100% 50%">1,235</span></div>
<div class="t gp" style="top:319px;font-size:15.8px;letter-spacing:0px;left:822px;width:64.0px;text-align:right;"><span style="display:inline-block;transform:scaleX(1.092);transform-origin:100% 50%">964</span></div>
<div class="t gp" style="top:319px;font-size:15.8px;letter-spacing:0px;left:887px;width:72.0px;text-align:right;"><span style="display:inline-block;transform:scaleX(1.092);transform-origin:100% 50%">17.9</span></div>
<div class="t gp" style="top:319px;font-size:15.8px;letter-spacing:0px;left:960px;width:72.0px;text-align:right;"><span style="display:inline-block;transform:scaleX(1.092);transform-origin:100% 50%">318.5</span></div>
<div class="t gp" style="top:319px;font-size:15.8px;letter-spacing:0px;left:1033px;width:69.0px;text-align:right;"><span style="display:inline-block;transform:scaleX(1.092);transform-origin:100% 50%">4,660</span></div>
<div class="t gp" style="top:337px;font-size:15.8px;letter-spacing:0px;left:121.7px;width:73px;text-align:center;"><span style="display:inline-block;transform:scaleX(1.092);transform-origin:50% 50%">10.00</span></div>
<div class="t gp" style="top:337px;font-size:15.8px;letter-spacing:0px;left:194px;width:73.0px;text-align:right;"><span style="display:inline-block;transform:scaleX(1.092);transform-origin:100% 50%">175,071</span></div>
<div class="t gp" style="top:337px;font-size:15.8px;letter-spacing:0px;left:268px;width:72.0px;text-align:right;"><span style="display:inline-block;transform:scaleX(1.092);transform-origin:100% 50%">22.86</span></div>
<div class="t gp" style="top:337px;font-size:15.8px;letter-spacing:0px;left:341px;width:64.0px;text-align:right;"><span style="display:inline-block;transform:scaleX(1.092);transform-origin:100% 50%">0.301</span></div>
<div class="t gp" style="top:337px;font-size:15.8px;letter-spacing:0px;left:406px;width:64.0px;text-align:right;"><span style="display:inline-block;transform:scaleX(1.092);transform-origin:100% 50%">0.234</span></div>
<div class="t gp" style="top:337px;font-size:15.8px;letter-spacing:0px;left:471px;width:65.0px;text-align:right;"><span style="display:inline-block;transform:scaleX(1.092);transform-origin:100% 50%">0.0044</span></div>
<div class="t gp" style="top:337px;font-size:15.8px;letter-spacing:0px;left:537px;width:64.0px;text-align:right;"><span style="display:inline-block;transform:scaleX(1.092);transform-origin:100% 50%">0.054</span></div>
<div class="t gp" style="top:337px;font-size:15.8px;letter-spacing:0px;left:602px;width:72.0px;text-align:right;"><span style="display:inline-block;transform:scaleX(1.092);transform-origin:100% 50%">0.8</span></div>
<div class="t gp" style="top:337px;font-size:15.8px;letter-spacing:0px;left:675px;width:72.0px;text-align:right;"><span style="display:inline-block;transform:scaleX(1.092);transform-origin:100% 50%">4,002</span></div>
<div class="t gp" style="top:337px;font-size:15.8px;letter-spacing:0px;left:748px;width:73.0px;text-align:right;"><span style="display:inline-block;transform:scaleX(1.092);transform-origin:100% 50%">1,163</span></div>
<div class="t gp" style="top:337px;font-size:15.8px;letter-spacing:0px;left:822px;width:64.0px;text-align:right;"><span style="display:inline-block;transform:scaleX(1.092);transform-origin:100% 50%">905</span></div>
<div class="t gp" style="top:337px;font-size:15.8px;letter-spacing:0px;left:887px;width:72.0px;text-align:right;"><span style="display:inline-block;transform:scaleX(1.092);transform-origin:100% 50%">17.0</span></div>
<div class="t gp" style="top:337px;font-size:15.8px;letter-spacing:0px;left:960px;width:72.0px;text-align:right;"><span style="display:inline-block;transform:scaleX(1.092);transform-origin:100% 50%">302.8</span></div>
<div class="t gp" style="top:337px;font-size:15.8px;letter-spacing:0px;left:1033px;width:69.0px;text-align:right;"><span style="display:inline-block;transform:scaleX(1.092);transform-origin:100% 50%">4,379</span></div>
<div class="t gp" style="top:355px;font-size:15.8px;letter-spacing:0px;left:121.7px;width:73px;text-align:center;"><span style="display:inline-block;transform:scaleX(1.092);transform-origin:50% 50%">15.00</span></div>
<div class="t gp" style="top:355px;font-size:15.8px;letter-spacing:0px;left:194px;width:73.0px;text-align:right;"><span style="display:inline-block;transform:scaleX(1.092);transform-origin:100% 50%">118,277</span></div>
<div class="t gp" style="top:355px;font-size:15.8px;letter-spacing:0px;left:268px;width:72.0px;text-align:right;"><span style="display:inline-block;transform:scaleX(1.092);transform-origin:100% 50%">27.91</span></div>
<div class="t gp" style="top:355px;font-size:15.8px;letter-spacing:0px;left:341px;width:64.0px;text-align:right;"><span style="display:inline-block;transform:scaleX(1.092);transform-origin:100% 50%">0.368</span></div>
<div class="t gp" style="top:355px;font-size:15.8px;letter-spacing:0px;left:406px;width:64.0px;text-align:right;"><span style="display:inline-block;transform:scaleX(1.092);transform-origin:100% 50%">0.283</span></div>
<div class="t gp" style="top:355px;font-size:15.8px;letter-spacing:0px;left:471px;width:65.0px;text-align:right;"><span style="display:inline-block;transform:scaleX(1.092);transform-origin:100% 50%">0.0056</span></div>
<div class="t gp" style="top:355px;font-size:15.8px;letter-spacing:0px;left:537px;width:64.0px;text-align:right;"><span style="display:inline-block;transform:scaleX(1.092);transform-origin:100% 50%">0.068</span></div>
<div class="t gp" style="top:355px;font-size:15.8px;letter-spacing:0px;left:602px;width:72.0px;text-align:right;"><span style="display:inline-block;transform:scaleX(1.092);transform-origin:100% 50%">0.9</span></div>
<div class="t gp" style="top:355px;font-size:15.8px;letter-spacing:0px;left:675px;width:72.0px;text-align:right;"><span style="display:inline-block;transform:scaleX(1.092);transform-origin:100% 50%">3,301</span></div>
<div class="t gp" style="top:355px;font-size:15.8px;letter-spacing:0px;left:748px;width:73.0px;text-align:right;"><span style="display:inline-block;transform:scaleX(1.092);transform-origin:100% 50%">959</span></div>
<div class="t gp" style="top:355px;font-size:15.8px;letter-spacing:0px;left:822px;width:64.0px;text-align:right;"><span style="display:inline-block;transform:scaleX(1.092);transform-origin:100% 50%">739</span></div>
<div class="t gp" style="top:355px;font-size:15.8px;letter-spacing:0px;left:887px;width:72.0px;text-align:right;"><span style="display:inline-block;transform:scaleX(1.092);transform-origin:100% 50%">14.6</span></div>
<div class="t gp" style="top:355px;font-size:15.8px;letter-spacing:0px;left:960px;width:72.0px;text-align:right;"><span style="display:inline-block;transform:scaleX(1.092);transform-origin:100% 50%">260.1</span></div>
<div class="t gp" style="top:355px;font-size:15.8px;letter-spacing:0px;left:1033px;width:69.0px;text-align:right;"><span style="display:inline-block;transform:scaleX(1.092);transform-origin:100% 50%">3,590</span></div>
<div class="t gp" style="top:373px;font-size:15.8px;letter-spacing:0px;left:121.7px;width:73px;text-align:center;"><span style="display:inline-block;transform:scaleX(1.092);transform-origin:50% 50%">20.00</span></div>
<div class="t gp" style="top:373px;font-size:15.8px;letter-spacing:0px;left:194px;width:73.0px;text-align:right;"><span style="display:inline-block;transform:scaleX(1.092);transform-origin:100% 50%">78,227</span></div>
<div class="t gp" style="top:373px;font-size:15.8px;letter-spacing:0px;left:268px;width:72.0px;text-align:right;"><span style="display:inline-block;transform:scaleX(1.092);transform-origin:100% 50%">33.32</span></div>
<div class="t gp" style="top:373px;font-size:15.8px;letter-spacing:0px;left:341px;width:64.0px;text-align:right;"><span style="display:inline-block;transform:scaleX(1.092);transform-origin:100% 50%">0.439</span></div>
<div class="t gp" style="top:373px;font-size:15.8px;letter-spacing:0px;left:406px;width:64.0px;text-align:right;"><span style="display:inline-block;transform:scaleX(1.092);transform-origin:100% 50%">0.334</span></div>
<div class="t gp" style="top:373px;font-size:15.8px;letter-spacing:0px;left:471px;width:65.0px;text-align:right;"><span style="display:inline-block;transform:scaleX(1.092);transform-origin:100% 50%">0.0069</span></div>
<div class="t gp" style="top:373px;font-size:15.8px;letter-spacing:0px;left:537px;width:64.0px;text-align:right;"><span style="display:inline-block;transform:scaleX(1.092);transform-origin:100% 50%">0.086</span></div>
<div class="t gp" style="top:373px;font-size:15.8px;letter-spacing:0px;left:602px;width:72.0px;text-align:right;"><span style="display:inline-block;transform:scaleX(1.092);transform-origin:100% 50%">1.1</span></div>
<div class="t gp" style="top:373px;font-size:15.8px;letter-spacing:0px;left:675px;width:72.0px;text-align:right;"><span style="display:inline-block;transform:scaleX(1.092);transform-origin:100% 50%">2,607</span></div>
<div class="t gp" style="top:373px;font-size:15.8px;letter-spacing:0px;left:748px;width:73.0px;text-align:right;"><span style="display:inline-block;transform:scaleX(1.092);transform-origin:100% 50%">757</span></div>
<div class="t gp" style="top:373px;font-size:15.8px;letter-spacing:0px;left:822px;width:64.0px;text-align:right;"><span style="display:inline-block;transform:scaleX(1.092);transform-origin:100% 50%">576</span></div>
<div class="t gp" style="top:373px;font-size:15.8px;letter-spacing:0px;left:887px;width:72.0px;text-align:right;"><span style="display:inline-block;transform:scaleX(1.092);transform-origin:100% 50%">11.9</span></div>
<div class="t gp" style="top:373px;font-size:15.8px;letter-spacing:0px;left:960px;width:72.0px;text-align:right;"><span style="display:inline-block;transform:scaleX(1.092);transform-origin:100% 50%">215.5</span></div>
<div class="t gp" style="top:373px;font-size:15.8px;letter-spacing:0px;left:1033px;width:69.0px;text-align:right;"><span style="display:inline-block;transform:scaleX(1.092);transform-origin:100% 50%">2,814</span></div>
<div class="t gp" style="top:391px;font-size:15.8px;letter-spacing:0px;left:121.7px;width:73px;text-align:center;"><span style="display:inline-block;transform:scaleX(1.092);transform-origin:50% 50%">20.00</span></div>
<div class="t gp" style="top:391px;font-size:15.8px;letter-spacing:0px;left:194px;width:73.0px;text-align:right;"><span style="display:inline-block;transform:scaleX(1.092);transform-origin:100% 50%">108,681</span></div>
<div class="t gp" style="top:391px;font-size:15.8px;letter-spacing:0px;left:268px;width:72.0px;text-align:right;"><span style="display:inline-block;transform:scaleX(1.092);transform-origin:100% 50%">35.42</span></div>
<div class="t gp" style="top:391px;font-size:15.8px;letter-spacing:0px;left:341px;width:64.0px;text-align:right;"><span style="display:inline-block;transform:scaleX(1.092);transform-origin:100% 50%">0.467</span></div>
<div class="t gp" style="top:391px;font-size:15.8px;letter-spacing:0px;left:406px;width:64.0px;text-align:right;"><span style="display:inline-block;transform:scaleX(1.092);transform-origin:100% 50%">0.337</span></div>
<div class="t gp" style="top:391px;font-size:15.8px;letter-spacing:0px;left:471px;width:65.0px;text-align:right;"><span style="display:inline-block;transform:scaleX(1.092);transform-origin:100% 50%">0.0108</span></div>
<div class="t gp" style="top:391px;font-size:15.8px;letter-spacing:0px;left:537px;width:64.0px;text-align:right;"><span style="display:inline-block;transform:scaleX(1.092);transform-origin:100% 50%">0.093</span></div>
<div class="t gp" style="top:391px;font-size:15.8px;letter-spacing:0px;left:602px;width:72.0px;text-align:right;"><span style="display:inline-block;transform:scaleX(1.092);transform-origin:100% 50%">1.2</span></div>
<div class="t gp" style="top:391px;font-size:15.8px;letter-spacing:0px;left:675px;width:72.0px;text-align:right;"><span style="display:inline-block;transform:scaleX(1.092);transform-origin:100% 50%">3,850</span></div>
<div class="t gp" style="top:391px;font-size:15.8px;letter-spacing:0px;left:748px;width:73.0px;text-align:right;"><span style="display:inline-block;transform:scaleX(1.092);transform-origin:100% 50%">1,118</span></div>
<div class="t gp" style="top:391px;font-size:15.8px;letter-spacing:0px;left:822px;width:64.0px;text-align:right;"><span style="display:inline-block;transform:scaleX(1.092);transform-origin:100% 50%">807</span></div>
<div class="t gp" style="top:391px;font-size:15.8px;letter-spacing:0px;left:887px;width:72.0px;text-align:right;"><span style="display:inline-block;transform:scaleX(1.092);transform-origin:100% 50%">25.9</span></div>
<div class="t gp" style="top:391px;font-size:15.8px;letter-spacing:0px;left:960px;width:72.0px;text-align:right;"><span style="display:inline-block;transform:scaleX(1.092);transform-origin:100% 50%">325.0</span></div>
<div class="t gp" style="top:391px;font-size:15.8px;letter-spacing:0px;left:1033px;width:69.0px;text-align:right;"><span style="display:inline-block;transform:scaleX(1.092);transform-origin:100% 50%">4,347</span></div>
<div class="t" style="top:477px;font-size:16.7px;letter-spacing:1.1196px;left:12px;">NSR=net smelter return, CuEq=copper equivalent, Cu=copper, Mo=molybdenum, Au=gold, Ag=silver.</div>
<div class="t" style="top:501px;font-size:16.7px;letter-spacing:1.1196px;left:12px;">kt=thousands of tonnes, gpt=grams per tonne, Mlb=millions of pounds, koz=thousands of ounces.</div>
<div class="t" style="top:544px;font-size:16.7px;letter-spacing:0.8519px;left:12px;">Notes to the Resources Table</div>
<div class="t" style="top:585px;font-size:16.7px;letter-spacing:1.0px;left:51px;">1.</div>
<div class="t" style="top:585px;font-size:16.7px;letter-spacing:0.83px;left:73px;">The Mineral Resource Estimate has been prepared by Sue Bird, P.Eng., an independent Qualified Person.</div>
<div class="t" style="top:605px;font-size:16.7px;letter-spacing:1.0px;left:51px;">2.</div>
<div class="t" style="top:605px;font-size:16.7px;letter-spacing:0.9573px;left:72px;">Resources are reported using the 2014 CIM Definition Standards and were estimated in accordance with the CIM 2019 Best</div>
<div class="t" style="top:625px;font-size:16.7px;letter-spacing:0.8px;left:72px;">Practices Guidelines.</div>
<div class="t" style="top:645px;font-size:16.7px;letter-spacing:1.0px;left:51px;">3.</div>
<div class="t" style="top:645px;font-size:16.7px;letter-spacing:0.9231px;left:72px;">Mineral Resources that are not Mineral Reserves do not have demonstrated economic viability.</div>
<div class="t" style="top:665px;font-size:16.7px;letter-spacing:1.0px;left:51px;">4.</div>
<div class="t" style="top:665px;font-size:16.7px;letter-spacing:0.9099px;left:73px;">The Mineral Resource has been confined by a "reasonable prospects of eventual economic extraction" pit using the</div>
<div class="t" style="top:685px;font-size:16.7px;letter-spacing:1.0476px;left:73px;">following assumptions:</div>
<div class="t" style="top:705px;font-size:16.7px;letter-spacing:1.0px;left:111px;">a.</div>
<div class="t" style="top:705px;font-size:16.7px;letter-spacing:1.0px;left:132px;">Cu price of US$3.50/lb, Mo price of US$20.00/lb, Au price of US$1,750/oz, Ag price of US$20/oz at an exchange</div>
<div class="t" style="top:725px;font-size:16.7px;letter-spacing:1.0px;left:132px;">rate of 0.77 US$ per C$.</div>
<div class="t" style="top:745px;font-size:16.7px;letter-spacing:1.0px;left:111px;">b.</div>
<div class="t" style="top:745px;font-size:16.7px;letter-spacing:1.0825px;left:132px;">97% for Cu and Au, 90.0% payable for Ag, 99.0% payable for Mo, 1% Unit deduction for Cu and Mo, Cu</div>
<div class="t" style="top:765px;font-size:16.7px;letter-spacing:1.0459px;left:132px;">concentrate smelting of US$120/wmt, US$0.10/lb Cu refining and transport of US$100/t. For Mo smelting costs of</div>
<div class="t" style="top:785px;font-size:16.7px;letter-spacing:1.1485px;left:132px;">US$2.5/wmt con, US$1.52/lb Mo refining, and US$154.05/wmt transport, Au refining of US$8.00/oz with Ag</div>
<div class="t" style="top:805px;font-size:16.7px;letter-spacing:1.0282px;left:132px;">refining of US$0.50/oz with transportation costs included in the Cu con.</div>
<div class="t" style="top:825px;font-size:16.7px;letter-spacing:1.0px;left:111px;">c.</div>
<div class="t" style="top:825px;font-size:16.7px;letter-spacing:1.1013px;left:132px;">Recoveries for Cu, Mo, Au, and Ag of 89.9%, 71.1%, 78.6% and 78.1% respectively.</div>
<div class="t" style="top:845px;font-size:16.7px;letter-spacing:1.0px;left:51px;">5.</div>
<div class="t" style="top:845px;font-size:16.7px;letter-spacing:1.3611px;left:72px;">Resulting NSR equation is: NSR = 22.0462*(Cu% * C$3.83/lb *89.9% + Mo%*C$ 23.58 * 71.1%) +Au gpt *C$70.55/g *</div>
<div class="t" style="top:865px;font-size:16.7px;letter-spacing:1.5758px;left:72px;">78.6% + Ag gpt * C$ 0.74/g * 78.1%</div>
<div class="t" style="top:885px;font-size:16.7px;letter-spacing:1.0px;left:51px;">6.</div>
<div class="t" style="top:885px;font-size:16.7px;letter-spacing:1.125px;left:72px;">Mining costs of C$1.50/t.</div>
<div class="t" style="top:905px;font-size:16.7px;letter-spacing:1.0px;left:51px;">7.</div>
<div class="t" style="top:905px;font-size:16.7px;letter-spacing:0.9828px;left:72px;">Processing, G&amp;A, and tailings management costs of C$5.50/t.</div>
<div class="t" style="top:925px;font-size:16.7px;letter-spacing:1.0px;left:51px;">8.</div>
<div class="t" style="top:925px;font-size:16.7px;letter-spacing:0.9167px;left:72px;">Pit slopes of 50 degrees.</div>
<div class="t" style="top:945px;font-size:16.7px;letter-spacing:1.0px;left:51px;">9.</div>
<div class="t" style="top:945px;font-size:16.7px;letter-spacing:1.1714px;left:72px;">Numbers may not sum due to rounding.</div>
</body></html>
